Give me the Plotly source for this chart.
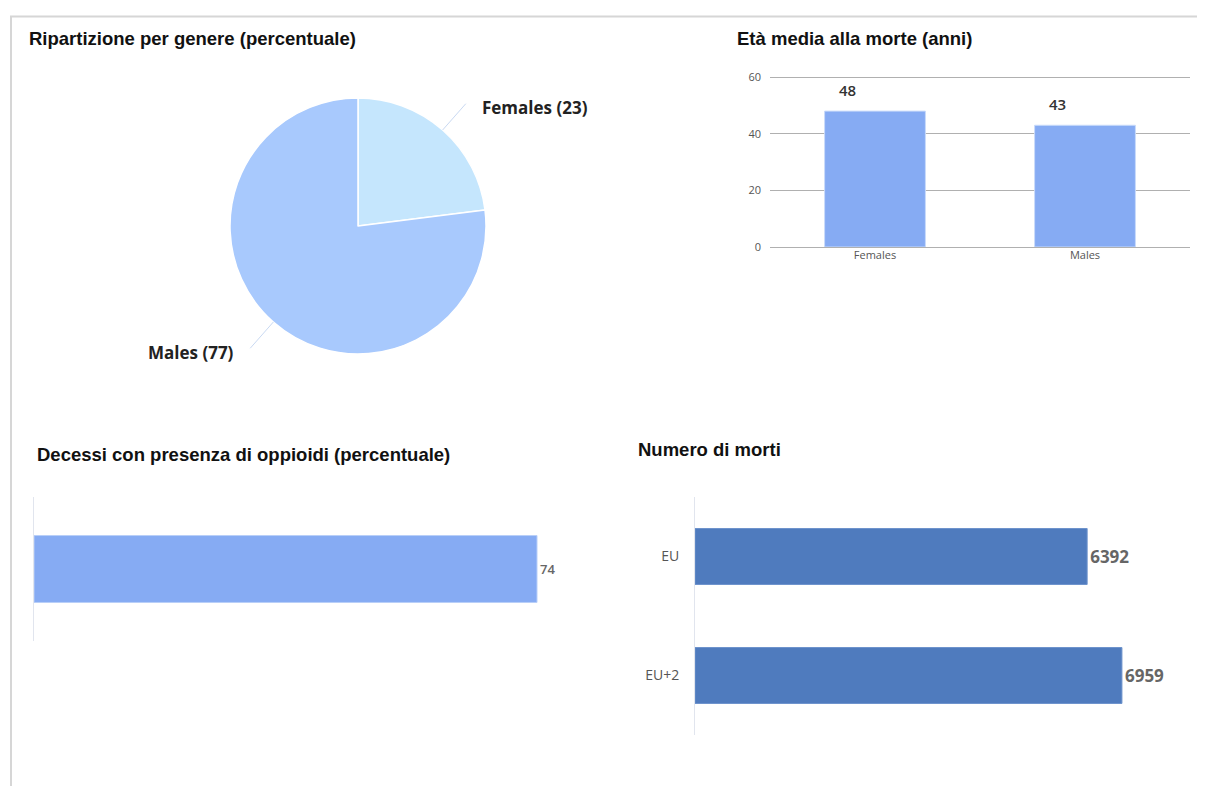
import math
import plotly.graph_objects as go

# the page body keeps its 8px margin, so the figure sits 8px in from the corner
OFF = 8
W, H = 1205 - 2 * OFF, 794 - 2 * OFF

# ---- data ----
gender_labels = ["Females", "Males"]
gender_share = [23, 77]

age_labels = ["Females", "Males"]
age_values = [48, 43]

opioid_labels = [""]
opioid_values = [74]

deaths_labels = ["EU", "EU+2"]
deaths_values = [6392, 6959]


def px(x):
    return (x - OFF) / W


def py(y):
    return 1 - (y - OFF) / H


fig = go.Figure()

# ---- pie (top left) ----
cx, cy, R = 358, 226, 128
fig.add_trace(go.Pie(
    labels=gender_labels, values=gender_share, sort=False, direction="clockwise",
    marker=dict(colors=["#c5e6fd", "#a8c9fd"], line=dict(color="white", width=1.5)),
    textinfo="none", hoverinfo="label+value", showlegend=False,
    domain=dict(x=[px(cx - R), px(cx + R)], y=[py(cy + R), py(cy - R)])))

# leader lines + labels computed from slice mid-angles
tot = sum(gender_share)
acc = 0
for lab, v in zip(gender_labels, gender_share):
    mid = (acc + v / 2) / tot * 2 * math.pi
    acc += v
    sx, sy = math.sin(mid), -math.cos(mid)
    x1, y1 = cx + R * sx, cy + R * sy
    x2, y2 = cx + (R + 35) * sx, cy + (R + 35) * sy
    fig.add_shape(type="line", xref="paper", yref="paper",
                  x0=px(x1), y0=py(y1), x1=px(x2), y1=py(y2),
                  line=dict(color="#c9d9f2", width=1))
    right = sx > 0
    fig.add_annotation(xref="paper", yref="paper", showarrow=False,
                       x=px(x2 + (14 if right else -14)), y=py(y2 + 4),
                       xanchor="left" if right else "right", yanchor="middle",
                       text=f"<b>{lab} ({v})</b>",
                       font=dict(family="Open Sans", size=17, color="#222"))

# ---- vertical bars (top right) ----
fig.add_trace(go.Bar(
    x=age_labels, y=age_values, xaxis="x", yaxis="y",
    marker=dict(color="#86abf3", line=dict(color="#c9dbfa", width=1)),
    showlegend=False, hoverinfo="x+y"))
for lab, v in zip(age_labels, age_values):
    fig.add_annotation(x=lab, y=v, xref="x", yref="y", showarrow=False,
                       xshift=-28, yshift=9, yanchor="bottom", text=str(v),
                       font=dict(family="Open Sans", size=15, color="#333", weight=600))

# ---- single horizontal bar (bottom left) ----
fig.add_trace(go.Bar(
    x=opioid_values, y=opioid_labels, orientation="h", xaxis="x2", yaxis="y2",
    marker=dict(color="#86abf3", line=dict(color="#b9cff8", width=1)),
    text=[str(v) for v in opioid_values], textposition="outside", cliponaxis=False,
    textfont=dict(family="Open Sans", size=13, color="#666", weight=600),
    showlegend=False, hoverinfo="x"))

# ---- horizontal bars (bottom right) ----
fig.add_trace(go.Bar(
    x=deaths_values, y=deaths_labels, orientation="h", xaxis="x3", yaxis="y3",
    marker=dict(color="#4f7bbe", line=dict(color="#6d93cc", width=1)),
    text=[str(v) for v in deaths_values], textposition="outside", cliponaxis=False,
    textfont=dict(family="Open Sans", size=17, color="#666", weight=700),
    showlegend=False, hoverinfo="x"))

tick_font = dict(family="Open Sans", size=11, color="#555")

fig.update_layout(
    width=W, height=H, margin=dict(l=0, r=0, t=0, b=0),
    paper_bgcolor="white", plot_bgcolor="white",
    bargap=0.52,
    xaxis=dict(domain=[px(770), px(1190)], showgrid=False, showline=False, automargin=False,
               ticks="", tickfont=tick_font, fixedrange=True),
    yaxis=dict(domain=[py(247), py(76)], range=[0, 60.4], tickvals=[0, 20, 40, 60],
               showgrid=True, gridcolor="#b0b0b0", gridwidth=1, automargin=False,
               zeroline=True, zerolinecolor="#b0b0b0", zerolinewidth=1,
               showline=False, ticks="", ticklabelstandoff=8, tickfont=tick_font,
               fixedrange=True),
    xaxis2=dict(domain=[px(34), px(34 + 503 / 0.74 * 0.8)], range=[0, 80], anchor="y2",
                visible=False, automargin=False, fixedrange=True),
    yaxis2=dict(domain=[py(641), py(497)], anchor="x2", showline=True, linecolor="#e1e5ee",
                linewidth=1, showticklabels=False, ticks="", showgrid=False,
                automargin=False, fixedrange=True),
    xaxis3=dict(domain=[px(695), px(695 + 8000 / 16.3)], range=[0, 8000], anchor="y3",
                visible=False, automargin=False, fixedrange=True),
    yaxis3=dict(domain=[py(735), py(497)], anchor="x3", autorange="reversed",
                showline=True, linecolor="#e1e5ee", linewidth=1, showgrid=False,
                ticks="", ticklabelstandoff=12, automargin=False,
                tickfont=dict(family="Open Sans", size=14, color="#555"),
                fixedrange=True),
)

fig.data[2].width = 0.465
fig.data[3].width = 0.47

# ---- titles ----
title_font = dict(family="Liberation Sans", size=18.5, color="#111")
for x, y, t in [(27, 38, "Ripartizione per genere (percentuale)"),
                (735, 38, "Età media alla morte (anni)"),
                (35, 455, "Decessi con presenza di oppioidi (percentuale)"),
                (636, 449, "Numero di morti")]:
    fig.add_annotation(xref="paper", yref="paper", x=px(x), y=py(y), showarrow=False,
                       xanchor="left", yanchor="middle", text=f"<b>{t}</b>", font=title_font)

# ---- frame ----
fig.add_shape(type="line", xref="paper", yref="paper", x0=px(10), x1=1, y0=py(16.5), y1=py(16.5),
              line=dict(color="#d6d6d6", width=2))
fig.add_shape(type="line", xref="paper", yref="paper", x0=px(11), x1=px(11), y0=py(16), y1=0,
              line=dict(color="#d6d6d6", width=2))

fig.write_html("out.html")
